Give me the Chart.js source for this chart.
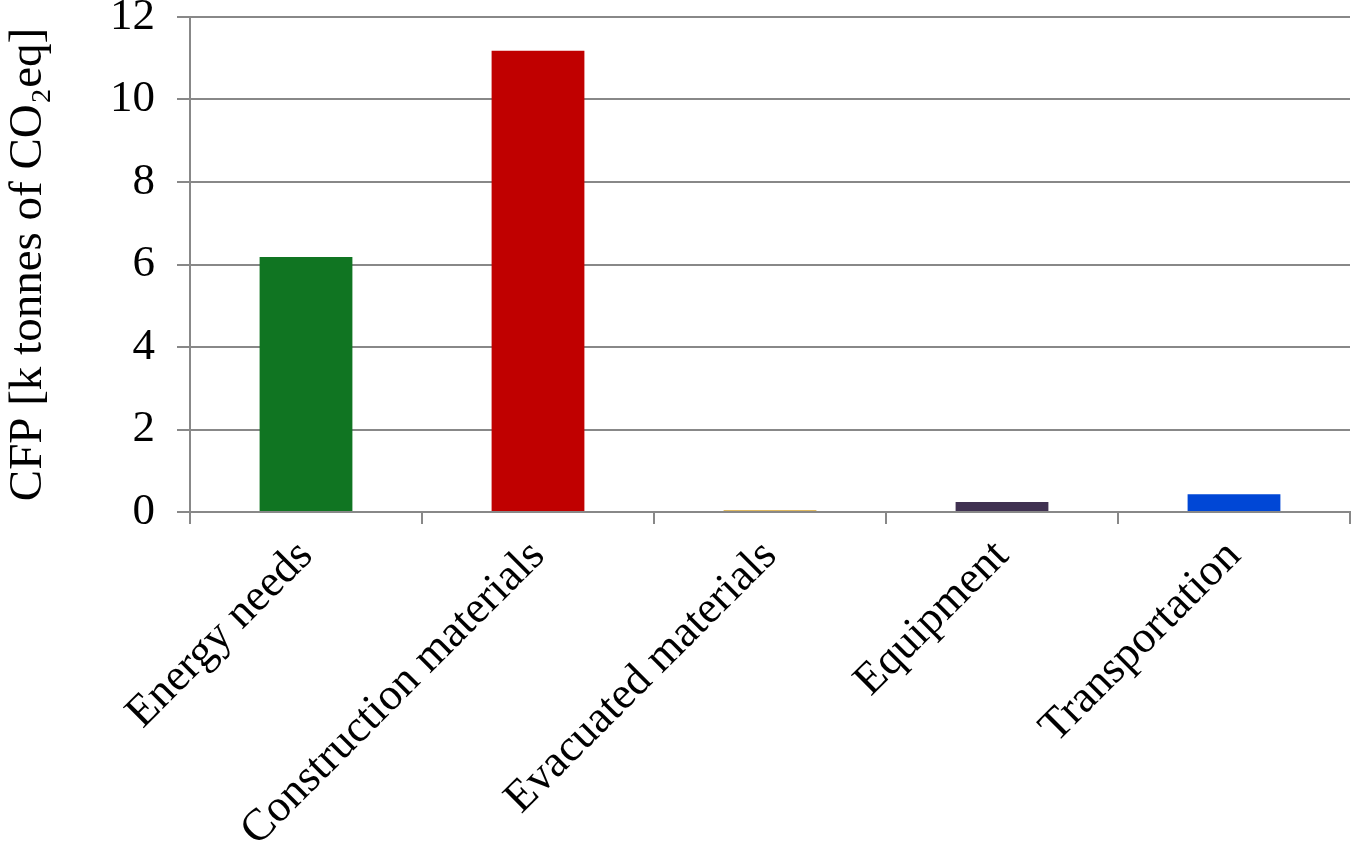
<!DOCTYPE html>
<html>
<head>
<meta charset="utf-8">
<script src="https://cdn.jsdelivr.net/npm/chart.js@4"></script>
<style>
  html, body { margin: 0; padding: 0; background: #fff; }
  #wrap { width: 1354px; height: 856px; position: relative; }
</style>
</head>
<body>
<div id="wrap"><canvas id="chart"></canvas></div>
<script>
const categories = ['Energy needs', 'Construction materials', 'Evacuated materials', 'Equipment', 'Transportation'];
const cfpValues = [6.18, 11.18, 0.04, 0.24, 0.43];
const barColors = ['#107522', '#c00000', '#d4a12a', '#403151', '#0047d6'];
const yTicks = [0, 2, 4, 6, 8, 10, 12];

const ctx = document.getElementById('chart').getContext('2d');
Chart.defaults.font.family = '"Liberation Serif", "Times New Roman", serif';
Chart.defaults.color = '#000';

new Chart(ctx, {
  type: 'bar',
  data: {
    labels: categories,
    datasets: [{
      data: cfpValues,
      backgroundColor: barColors,
      borderWidth: 0,
      barPercentage: 0.4,
      categoryPercentage: 1.0,
    }],
  },
  options: {
    responsive: true,
    maintainAspectRatio: false,
    animation: false,
    layout: { padding: { top: 17, right: 4, left: 0, bottom: 0 } },
    plugins: { legend: { display: false }, tooltip: { enabled: false } },
    scales: {
      x: {
        grid: {
          offset: true,
          drawOnChartArea: false,
          drawTicks: true,
          tickLength: 12,
          color: '#888',
          lineWidth: 2,
        },
        border: { color: '#888', width: 2 },
        ticks: {
          font: { size: 45 },
          minRotation: 45,
          maxRotation: 45,
          padding: 6,
        },
        afterFit: (scale) => {
          scale.height = 344;
          scale.paddingLeft = 0;
          scale.paddingRight = 0;
        },
      },
      y: {
        min: 0,
        max: 12,
        afterBuildTicks: (scale) => { scale.ticks = yTicks.map(v => ({ value: v })); },
        grid: { color: '#888', lineWidth: 2, tickLength: 13 },
        border: { color: '#888', width: 2 },
        ticks: { font: { size: 45 }, padding: 22 },
        title: {
          display: true,
          text: 'CFP [k tonnes of CO₂eq]',
          font: { size: 47 },
          padding: 0,
        },
        afterFit: (scale) => {
          scale.width = 190;
          scale.paddingTop = 0;
          scale.paddingBottom = 0;
        },
      },
    },
  },
});
</script>
</body>
</html>
